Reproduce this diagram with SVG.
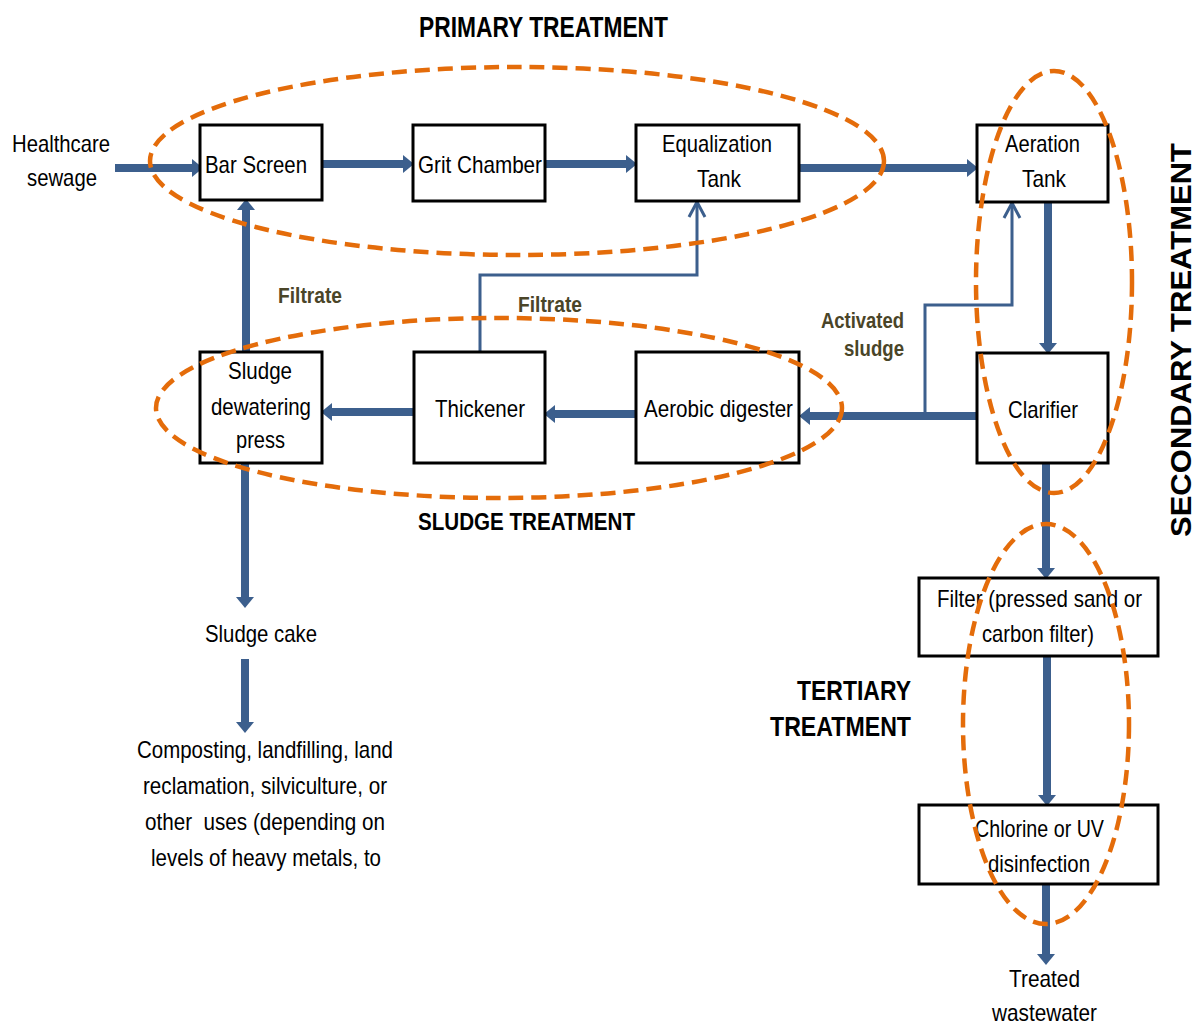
<svg xmlns="http://www.w3.org/2000/svg" width="1195" height="1026" viewBox="0 0 1195 1026">
  <style>
    .box { fill: #ffffff; stroke: #000000; stroke-width: 3; }
    .txt { font-family: "Liberation Sans", Arial, sans-serif; font-size: 24px; fill: #000000; }
    .lbl { font-family: "Liberation Sans", Arial, sans-serif; font-size: 22px; font-weight: bold; fill: #4a4528; }
    .ttl { font-family: "Liberation Sans", Arial, sans-serif; font-weight: bold; fill: #000000; }
    .flow { fill: none; stroke: #3c5f8d; stroke-width: 8; }
    .thin { fill: none; stroke: #3c5f8d; stroke-width: 3; }
    .zone { fill: none; stroke: #e46c0a; stroke-width: 4.5; stroke-dasharray: 15 8; }
  </style>
  <defs>
    <marker id="head" markerUnits="userSpaceOnUse" markerWidth="11" markerHeight="18" viewBox="0 0 11 18" refX="0" refY="9" orient="auto">
      <path d="M0,0 L11,9 L0,18 z" fill="#3c5f8d"/>
    </marker>
    <marker id="open" markerUnits="userSpaceOnUse" markerWidth="24" markerHeight="24" viewBox="-4 -12 24 24" refX="15" refY="0" orient="auto">
      <path d="M0,-8 L15,0 L0,8" fill="none" stroke="#3c5f8d" stroke-width="3"/>
    </marker>
  </defs>
  <rect width="1195" height="1026" fill="#ffffff"/>

  <!-- flow lines -->
  <g id="connectors">
    <path class="flow" d="M115,168 H192" marker-end="url(#head)"/>
    <path class="flow" d="M322,164 H403" marker-end="url(#head)"/>
    <path class="flow" d="M545,164 H626" marker-end="url(#head)"/>
    <path class="flow" d="M800,168 H967" marker-end="url(#head)"/>
    <path class="flow" d="M1048,202 V343" marker-end="url(#head)"/>
    <path class="flow" d="M977,416 H810" marker-end="url(#head)"/>
    <path class="flow" d="M636,414 H555" marker-end="url(#head)"/>
    <path class="flow" d="M414,412 H332" marker-end="url(#head)"/>
    <path class="flow" d="M246,352 V210" marker-end="url(#head)"/>
    <path class="flow" d="M245,463 V597" marker-end="url(#head)"/>
    <path class="flow" d="M245,659 V722" marker-end="url(#head)"/>
    <path class="flow" d="M1046,463 V568" marker-end="url(#head)"/>
    <path class="flow" d="M1047,657 V795" marker-end="url(#head)"/>
    <path class="flow" d="M1046,885 V954" marker-end="url(#head)"/>
    <path class="thin" d="M480,352 V275 H697 V202" marker-end="url(#open)"/>
    <path class="thin" d="M925,416 V305 H1012 V203" marker-end="url(#open)"/>
  </g>

  <!-- process steps -->
  <g id="node-bar-screen">
    <rect class="box" x="200" y="125" width="122" height="75"/>
    <text class="txt" x="205" y="173" textLength="102" lengthAdjust="spacingAndGlyphs">Bar Screen</text>
  </g>
  <g id="node-grit-chamber">
    <rect class="box" x="413" y="125" width="132" height="76"/>
    <text class="txt" x="418" y="173" textLength="124" lengthAdjust="spacingAndGlyphs">Grit Chamber</text>
  </g>
  <g id="node-equalization-tank">
    <rect class="box" x="636" y="125" width="163" height="76"/>
    <text class="txt" x="662" y="152" textLength="110" lengthAdjust="spacingAndGlyphs">Equalization</text>
    <text class="txt" x="697" y="187" textLength="44" lengthAdjust="spacingAndGlyphs">Tank</text>
  </g>
  <g id="node-aeration-tank">
    <rect class="box" x="977" y="125" width="131" height="77"/>
    <text class="txt" x="1005" y="152" textLength="75" lengthAdjust="spacingAndGlyphs">Aeration</text>
    <text class="txt" x="1022" y="187" textLength="44" lengthAdjust="spacingAndGlyphs">Tank</text>
  </g>
  <g id="node-clarifier">
    <rect class="box" x="977" y="353" width="131" height="110"/>
    <text class="txt" x="1008" y="418" textLength="70" lengthAdjust="spacingAndGlyphs">Clarifier</text>
  </g>
  <g id="node-aerobic-digester">
    <rect class="box" x="636" y="352" width="163" height="111"/>
    <text class="txt" x="644" y="417" textLength="149" lengthAdjust="spacingAndGlyphs">Aerobic digester</text>
  </g>
  <g id="node-thickener">
    <rect class="box" x="414" y="352" width="131" height="111"/>
    <text class="txt" x="435" y="417" textLength="90" lengthAdjust="spacingAndGlyphs">Thickener</text>
  </g>
  <g id="node-sludge-dewatering-press">
    <rect class="box" x="200" y="352" width="122" height="111"/>
    <text class="txt" x="228" y="379" textLength="64" lengthAdjust="spacingAndGlyphs">Sludge</text>
    <text class="txt" x="211" y="415" textLength="100" lengthAdjust="spacingAndGlyphs">dewatering</text>
    <text class="txt" x="236" y="448" textLength="49" lengthAdjust="spacingAndGlyphs">press</text>
  </g>
  <g id="node-filter">
    <rect class="box" x="919" y="578" width="239" height="78"/>
    <text class="txt" x="937" y="607" textLength="205" lengthAdjust="spacingAndGlyphs">Filter (pressed sand or</text>
    <text class="txt" x="982" y="642" textLength="112" lengthAdjust="spacingAndGlyphs">carbon filter)</text>
  </g>
  <g id="node-disinfection">
    <rect class="box" x="919" y="805" width="239" height="79"/>
    <text class="txt" x="975" y="837" textLength="129" lengthAdjust="spacingAndGlyphs">Chlorine or UV</text>
    <text class="txt" x="988" y="872" textLength="102" lengthAdjust="spacingAndGlyphs">disinfection</text>
  </g>

  <!-- inputs and outputs -->
  <g id="node-healthcare-sewage">
    <text class="txt" x="12" y="152" textLength="98" lengthAdjust="spacingAndGlyphs">Healthcare</text>
    <text class="txt" x="27" y="186" textLength="70" lengthAdjust="spacingAndGlyphs">sewage</text>
  </g>
  <g id="node-sludge-cake">
    <text class="txt" x="205" y="642" textLength="112" lengthAdjust="spacingAndGlyphs">Sludge cake</text>
  </g>
  <g id="node-sludge-uses">
    <text class="txt" x="137" y="758" textLength="256" lengthAdjust="spacingAndGlyphs">Composting, landfilling, land</text>
    <text class="txt" x="143" y="794" textLength="244" lengthAdjust="spacingAndGlyphs">reclamation, silviculture, or</text>
    <text class="txt" x="145" y="830" textLength="240" lengthAdjust="spacingAndGlyphs" style="white-space:pre">other  uses (depending on</text>
    <text class="txt" x="151" y="866" textLength="230" lengthAdjust="spacingAndGlyphs">levels of heavy metals, to</text>
  </g>
  <g id="node-treated-wastewater">
    <text class="txt" x="1009" y="987" textLength="71" lengthAdjust="spacingAndGlyphs">Treated</text>
    <text class="txt" x="992" y="1021" textLength="105" lengthAdjust="spacingAndGlyphs">wastewater</text>
  </g>

  <!-- flow labels -->
  <g id="flow-labels">
    <text class="lbl" x="278" y="303" textLength="64" lengthAdjust="spacingAndGlyphs">Filtrate</text>
    <text class="lbl" x="518" y="312" textLength="64" lengthAdjust="spacingAndGlyphs">Filtrate</text>
    <text class="lbl" x="821" y="328" textLength="83" lengthAdjust="spacingAndGlyphs">Activated</text>
    <text class="lbl" x="844" y="356" textLength="60" lengthAdjust="spacingAndGlyphs">sludge</text>
  </g>

  <!-- treatment stage outlines -->
  <g id="stage-outlines">
    <ellipse class="zone" cx="517" cy="161" rx="367" ry="94"/>
    <ellipse class="zone" cx="499" cy="408" rx="343" ry="90"/>
    <ellipse class="zone" cx="1054" cy="282" rx="78" ry="211"/>
    <ellipse class="zone" cx="1046" cy="724" rx="83" ry="200"/>
  </g>

  <!-- stage titles -->
  <g id="stage-titles">
    <text class="ttl" x="419" y="37" font-size="30" textLength="249" lengthAdjust="spacingAndGlyphs">PRIMARY TREATMENT</text>
    <text class="ttl" x="418" y="530" font-size="24" textLength="217" lengthAdjust="spacingAndGlyphs">SLUDGE TREATMENT</text>
    <text class="ttl" x="797" y="700" font-size="28" textLength="114" lengthAdjust="spacingAndGlyphs">TERTIARY</text>
    <text class="ttl" x="770" y="736" font-size="28" textLength="141" lengthAdjust="spacingAndGlyphs">TREATMENT</text>
    <text class="ttl" transform="translate(1191,340) rotate(-90)" text-anchor="middle" font-size="29" textLength="394" lengthAdjust="spacingAndGlyphs">SECONDARY  TREATMENT</text>
  </g>
</svg>
